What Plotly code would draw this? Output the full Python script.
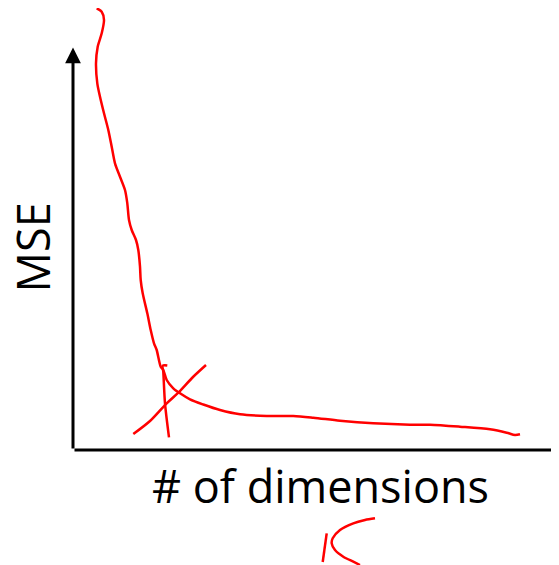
import plotly.graph_objects as go

# Hand-drawn sketch, coordinates measured from the axis origin (x right, y up)
curve_x = [23.7, 28.7, 31, 28.7, 24.7, 23, 24.3, 27, 31, 35.3, 38.7, 42, 47, 52, 54.3, 56, 58.7, 63,
           65.3, 67, 67.7, 69.7, 74.3, 77.7, 81, 83.7, 87.7, 90.3, 93.7, 100.3, 107, 117, 130.3, 147,
           167, 193.7, 220.3, 240.3, 267, 300.3, 337, 357, 387, 417, 433.7, 442, 447]
curve_y = [441.7, 438.3, 430, 416.7, 403.3, 386.7, 366.7, 353.3, 336.7, 320, 303.3, 286.7, 273.3, 260,
           246.7, 230, 220, 210, 200, 183.3, 170, 156.7, 136.7, 120, 106.7, 100, 83.3, 80, 70, 61.7,
           56.7, 50.7, 45.5, 40, 35.7, 34, 34, 32.3, 29.3, 26.7, 25.3, 25.3, 23.3, 20.7, 17.3, 15, 15.7]

mark_x = [94.3, 89.7, 90.3, 92, 96]
mark_y = [84.5, 84.3, 78, 46.7, 12.7]

cross_x = [60.3, 77, 93.7, 105.3, 120, 133]
cross_y = [16, 29, 46.7, 57.3, 73, 85]

k_stem_x = [253.7, 249.7]
k_stem_y = [-83.3, -112]
k_arm_x = [302, 292, 280.3, 267, 259.7, 258.7, 262, 270.3, 280.3, 287]
k_arm_y = [-68.3, -70, -73.3, -80, -88.3, -93.3, -100, -106.7, -111.7, -115]

y_axis_top = 402.5
x_axis_end = 497

x_label = "# of dimensions"
y_label = "MSE"

red = "#ff0000"
fig = go.Figure()
for xs, ys in [(curve_x, curve_y), (mark_x, mark_y), (cross_x, cross_y),
               (k_stem_x, k_stem_y), (k_arm_x, k_arm_y)]:
    fig.add_trace(go.Scatter(x=xs, y=ys, mode="lines",
                             line=dict(color=red, width=2.5, shape="spline", smoothing=0.8),
                             hoverinfo="skip", showlegend=False, cliponaxis=False))

arrow = dict(showarrow=True, arrowhead=2, arrowwidth=3, arrowsize=1.05, arrowcolor="black",
             xref="x", yref="y", axref="x", ayref="y", text="")
fig.add_annotation(x=0, y=y_axis_top, ax=0, ay=0, **arrow)
fig.add_annotation(x=x_axis_end, y=0, ax=0, ay=0, **arrow)

fig.add_annotation(x=247, y=-35, text=x_label, showarrow=False, xref="x", yref="y",
                   xanchor="center", yanchor="middle",
                   font=dict(family="Open Sans", size=45, color="black"))
fig.add_annotation(x=-41, y=202.5, text=y_label, showarrow=False, xref="x", yref="y",
                   textangle=-90, xanchor="center", yanchor="middle",
                   font=dict(family="Open Sans", size=45, color="black"))

fig.update_layout(width=551, height=557, margin=dict(l=0, r=0, t=0, b=0),
                  paper_bgcolor="white", plot_bgcolor="white",
                  xaxis=dict(range=[-65, 486], visible=False, fixedrange=True),
                  yaxis=dict(range=[-115, 442], visible=False, fixedrange=True))

fig.write_html("out.html")
